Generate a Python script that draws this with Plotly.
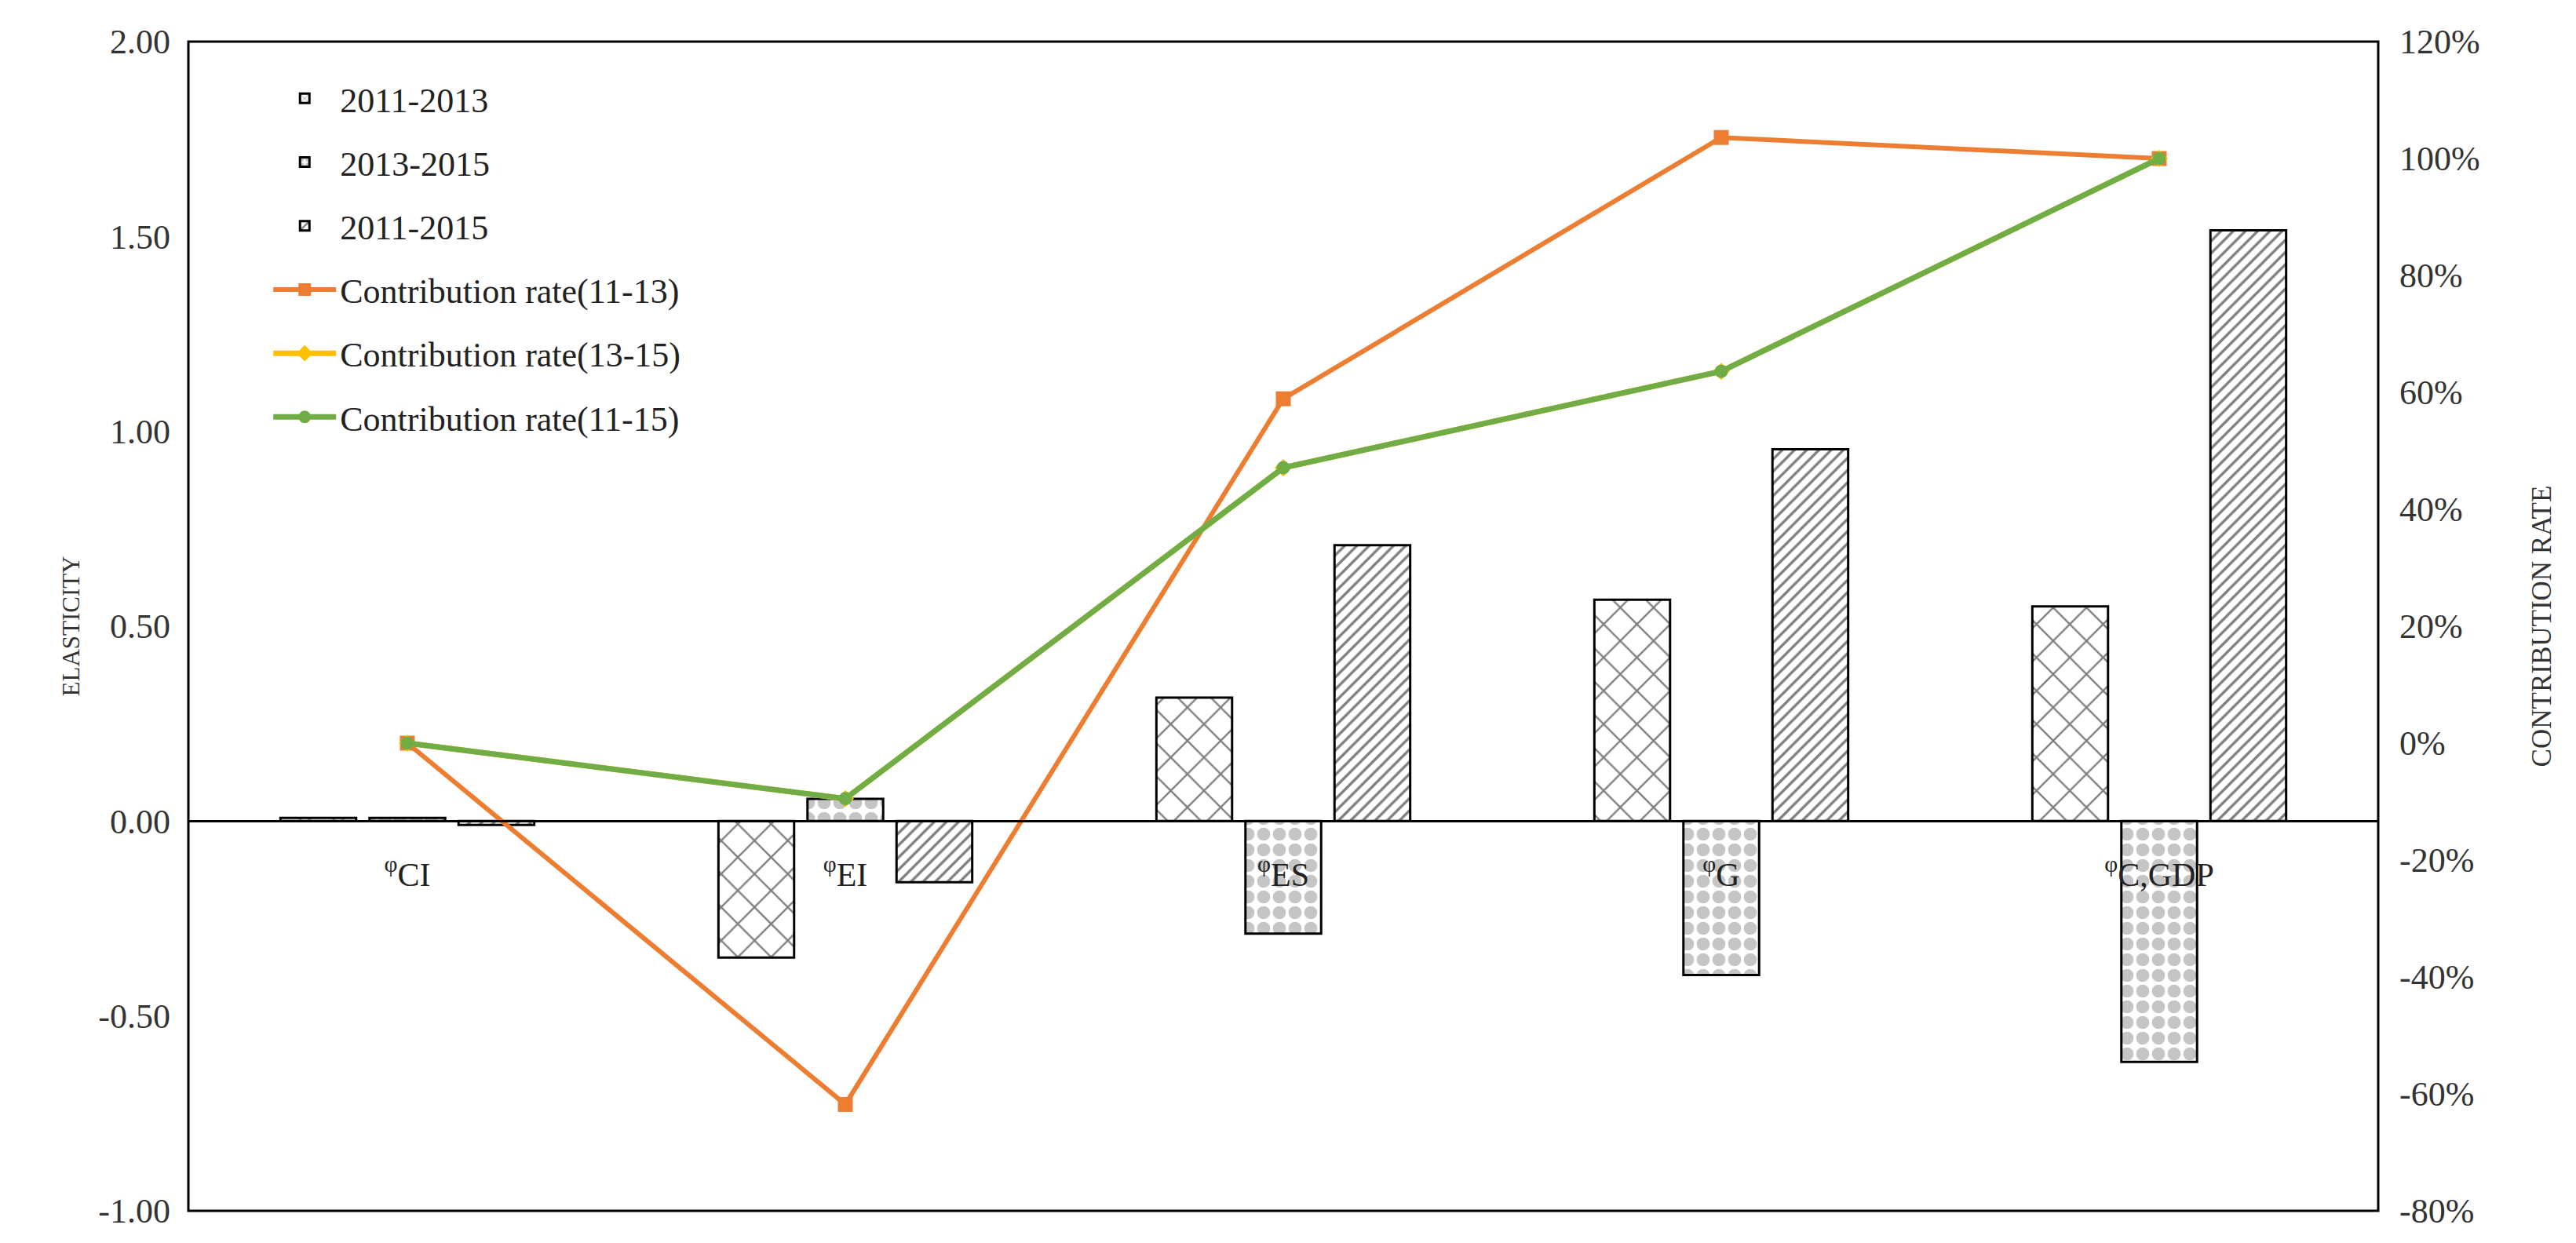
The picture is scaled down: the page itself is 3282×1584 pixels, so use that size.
import plotly.graph_objects as go

categories = ["<sup>φ</sup>CI", "<sup>φ</sup>EI", "<sup>φ</sup>ES", "<sup>φ</sup>G", "<sup>φ</sup>C,GDP"]

elasticity_11_13 = [0.008, -0.35, 0.317, 0.568, 0.551]
elasticity_13_15 = [0.008, 0.057, -0.289, -0.395, -0.618]
elasticity_11_15 = [-0.01, -0.157, 0.708, 0.954, 1.516]

contrib_11_13 = [0.0, -0.618, 0.589, 1.036, 1.0]
contrib_13_15 = [0.0, -0.095, 0.471, 0.636, 1.0]
contrib_11_15 = [0.0, -0.095, 0.471, 0.636, 1.0]

left_ticks = [-1.0, -0.5, 0.0, 0.5, 1.0, 1.5, 2.0]
left_labels = ["-1.00", "-0.50", "0.00", "0.50", "1.00", "1.50", "2.00"]
right_ticks = [-0.8, -0.6, -0.4, -0.2, 0.0, 0.2, 0.4, 0.6, 0.8, 1.0, 1.2]
right_labels = ["-80%", "-60%", "-40%", "-20%", "0%", "20%", "40%", "60%", "80%", "100%", "120%"]

FONT = "Liberation Serif, Times New Roman, serif"

fig = go.Figure()

bar_specs = [
    ("2011-2013", elasticity_11_13, dict(shape="x", fgcolor="black", bgcolor="white", size=30, solidity=0.15)),
    ("2013-2015", elasticity_13_15, dict(shape=".", fgcolor="#8c8c8c", bgcolor="white", size=20, solidity=0.55)),
    ("2011-2015", elasticity_11_15, dict(shape="/", fgcolor="black", bgcolor="white", size=11, solidity=0.3)),
]
for name, vals, pat in bar_specs:
    fig.add_trace(go.Bar(
        x=categories, y=vals, name=name, legendgroup=name,
        marker=dict(color="white", pattern=pat, line=dict(color="black", width=3)),
        yaxis="y",
    ))

line_specs = [
    ("Contribution rate(11-13)", contrib_11_13, "#ED7D31", "square", 19, 6),
    ("Contribution rate(13-15)", contrib_13_15, "#FFC000", "diamond", 17, 7),
    ("Contribution rate(11-15)", contrib_11_15, "#70AD47", "circle", 17, 7),
]
for name, vals, color, sym, msize, lw in line_specs:
    fig.add_trace(go.Scatter(
        x=categories, y=vals, name=name, legendgroup=name,
        mode="lines+markers",
        line=dict(color=color, width=lw),
        marker=dict(symbol=sym, size=msize, color=color),
        yaxis="y2",
    ))

fig.update_layout(
    width=3282, height=1584,
    margin=dict(l=232, r=260, t=45, b=49),
    plot_bgcolor="white", paper_bgcolor="white",
    font=dict(family=FONT, size=42, color="#222222"),
    barmode="group", bargap=0.39, bargroupgap=0.15,
    showlegend=True,
    legend=dict(
        x=0.037, y=0.975, xanchor="left", yanchor="top",
        font=dict(family=FONT, size=44, color="#222222"),
        traceorder="grouped", tracegroupgap=21, itemwidth=80,
        bgcolor="rgba(0,0,0,0)",
    ),
    xaxis=dict(
        anchor="free", position=1 / 3,
        showline=True, linecolor="black", linewidth=3,
        ticks="", showgrid=False, zeroline=False,
        tickfont=dict(family=FONT, size=42, color="#222222"),
        ticklabelstandoff=30,
    ),
    yaxis=dict(
        range=[-1, 2], tickvals=left_ticks, ticktext=left_labels,
        showgrid=False, zeroline=False, showline=False, ticks="",
        ticklabelstandoff=22,
        tickfont=dict(family=FONT, size=44, color="#333333"),
    ),
    yaxis2=dict(
        range=[-0.8, 1.2], tickvals=right_ticks, ticktext=right_labels,
        overlaying="y", side="right",
        showgrid=False, zeroline=False, showline=False, ticks="",
        ticklabelstandoff=26,
        tickfont=dict(family=FONT, size=44, color="#333333"),
    ),
    shapes=[
        dict(type="rect", xref="paper", yref="paper", x0=0, x1=1, y0=0, y1=1,
             line=dict(color="black", width=3)),
    ],
    annotations=[
        dict(text="ELASTICITY", xref="paper", yref="paper", x=-0.0606, y=0.5,
             textangle=-90, showarrow=False, font=dict(family=FONT, size=31, color="#333333")),
        dict(text="CONTRIBUTION RATE", xref="paper", yref="paper", x=1.0824, y=0.5,
             textangle=-90, showarrow=False, font=dict(family=FONT, size=35, color="#333333")),
    ],
)

fig.write_html("out.html")
